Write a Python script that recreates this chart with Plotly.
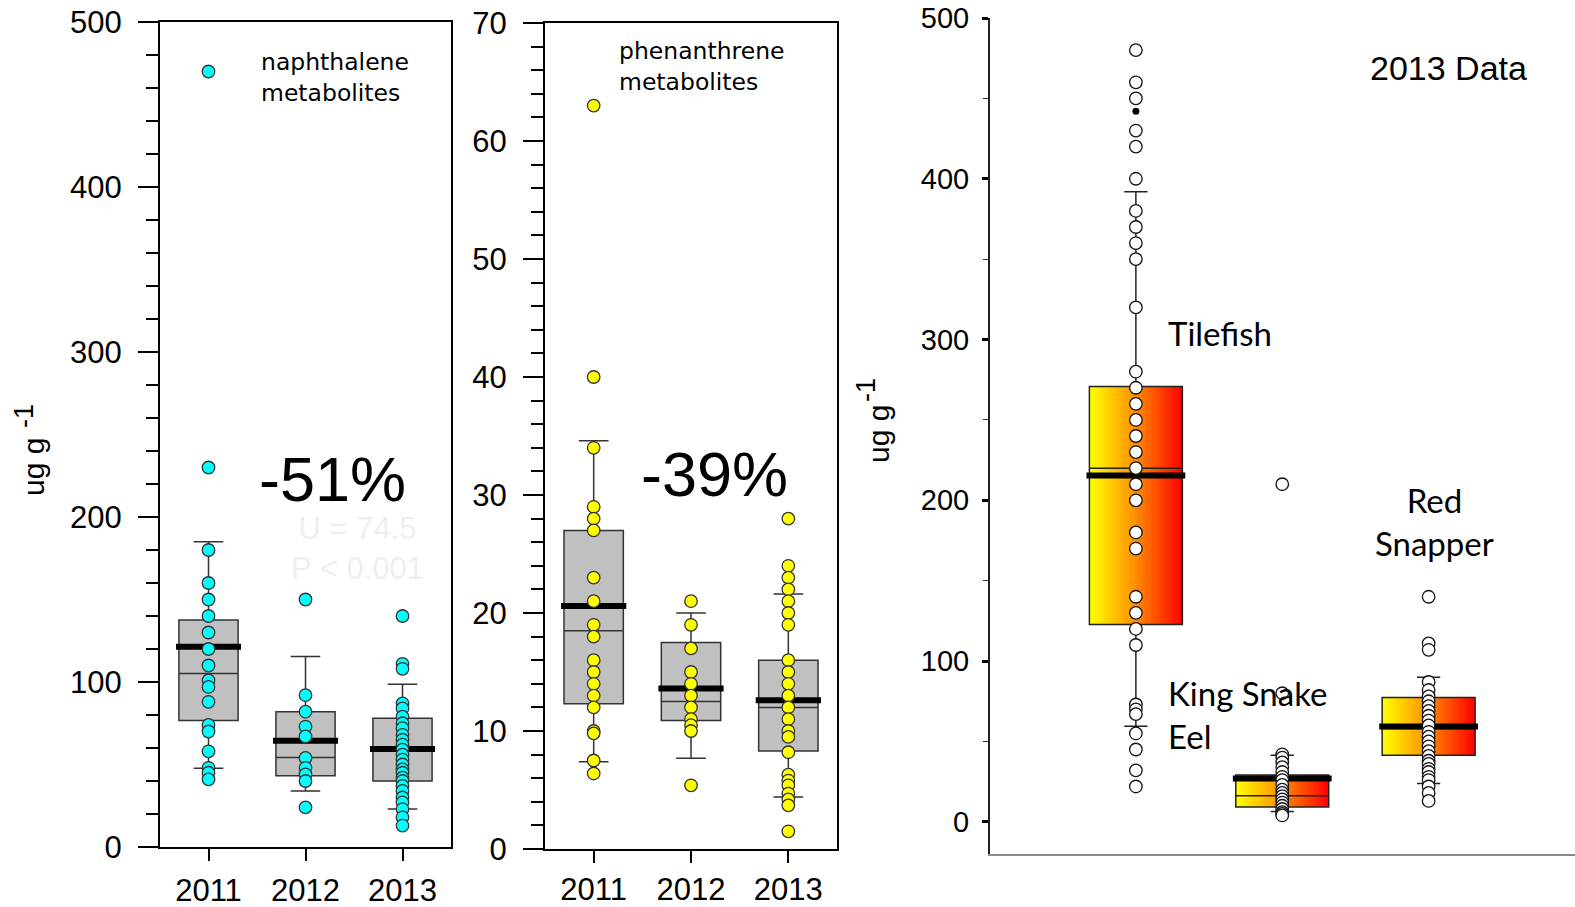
import numpy as np
import plotly.graph_objects as go

# ---------------- data ----------------
years = ["2011", "2012", "2013"]

naph_2011 = [470, 230, 180, 160, 150, 140, 130, 120, 110, 101, 97, 88, 74, 70, 58, 48, 45, 41]
naph_2012 = [150, 92, 82, 73, 67, 54, 48, 44, 40, 24]
naph_2013 = [140, 111, 108, 87, 84, 79, 75, 72, 68, 65, 62, 59, 56, 53, 50, 47, 45, 42,
             40, 37, 34, 30, 27, 23, 18, 13]
naph_q1 = [76.6, 43.2, 40.0]
naph_median = [105.2, 54.3, 58.0]
naph_q3 = [137.6, 82.0, 78.0]
naph_low = [47.7, 34.0, 23.0]
naph_high = [185.0, 115.4, 98.6]
naph_mean = [121.4, 64.4, 59.4]

phen_2011 = [63, 40, 34, 29, 28, 27, 23, 21, 19, 18, 16, 15, 14, 13, 12, 10, 9.8, 7.5, 6.4]
phen_2012 = [21, 19, 17, 15, 14, 13, 12, 11, 10.5, 10, 5.4]
phen_2013 = [28, 24, 23, 22, 21, 20, 19, 16, 15, 14, 13, 12, 11, 10, 9.5, 8.2, 6.3, 5.8,
             5.4, 4.7, 4.2, 3.7, 1.5]
phen_q1 = [12.3, 10.9, 8.3]
phen_median = [18.5, 12.5, 12.0]
phen_q3 = [27.0, 17.5, 16.0]
phen_low = [7.4, 7.7, 4.4]
phen_high = [34.6, 20.0, 21.6]
phen_mean = [20.6, 13.6, 12.6]

species = ["Tilefish", "King Snake<br>Eel", "Red<br>Snapper"]
tilefish = [480, 460, 450, 430, 420, 400, 380, 370, 360, 350, 320, 280, 270, 260, 250, 240,
            230, 220, 210, 200, 180, 170, 140, 130, 120, 110, 73, 70, 67, 55, 45, 32, 22]
tilefish_flagged = [442]
eel = [210, 80, 42, 40, 37, 34, 31, 28, 26, 23, 20, 18, 16, 14, 12, 10, 8, 6, 5, 4]
snapper = [140, 111, 107, 87, 82, 78, 75, 72, 69, 66, 63, 60, 56, 53, 50, 47, 44, 41, 38,
           36, 33, 31, 28, 26, 22, 18, 13]
fish_q1 = [122.8, 9.3, 41.5]
fish_median = [220.0, 16.2, 58.0]
fish_q3 = [270.8, 29.2, 77.3]
fish_low = [59.5, 6.5, 23.9]
fish_high = [392.0, 41.5, 90.0]
fish_mean = [215.5, 27.0, 59.3]

pct_naph = "-51%"
pct_phen = "-39%"

# ---------------- helpers ----------------
W, H = 1575, 907


def dx(a, b):
    return [a / W, min(b / W, 1.0)]


def dy(top, bottom):
    return [1 - bottom / H, 1 - top / H]


fig = go.Figure()


def add_panel(groups, q1, med, q3, lo, hi, mean, pos, xa, ya, box_w, fill, mfill,
              msize, mline, whisker_w, mean_w, mean_ext, box_line):
    fig.add_trace(go.Box(
        x=pos, q1=q1, median=med, q3=q3, lowerfence=lo, upperfence=hi,
        width=box_w, fillcolor=fill, line=dict(color=box_line, width=1.5),
        whiskerwidth=whisker_w, boxpoints=False, xaxis=xa, yaxis=ya,
        hoverinfo="skip", showlegend=False))
    mx, my = [], []
    for p, m in zip(pos, mean):
        mx += [p - box_w / 2 - mean_ext, p + box_w / 2 + mean_ext, None]
        my += [m, m, None]
    fig.add_trace(go.Scatter(x=mx, y=my, mode="lines",
                             line=dict(color="black", width=mean_w),
                             xaxis=xa, yaxis=ya, hoverinfo="skip", showlegend=False))
    px_, py_ = [], []
    for p, vals in zip(pos, groups):
        px_ += [p] * len(vals)
        py_ += list(vals)
    fig.add_trace(go.Scatter(x=px_, y=py_, mode="markers",
                             marker=dict(size=msize, color=mfill,
                                         line=dict(color=mline, width=1.3)),
                             xaxis=xa, yaxis=ya, hoverinfo="skip", showlegend=False))


# gradient fills for the 2013 boxes (heatmap bricks spanning each box)
fish_pos = [1, 2, 3]
fish_box_w = 0.635
ncol = 80
for p, a, b in zip(fish_pos, fish_q1, fish_q3):
    edges = np.linspace(p - fish_box_w / 2, p + fish_box_w / 2, ncol + 1)
    fig.add_trace(go.Heatmap(
        x=edges, y=[a, b], z=[list(range(ncol))],
        colorscale=[[0, "#ffff00"], [0.5, "#ff8c00"], [1, "#ff0000"]],
        showscale=False, hoverinfo="skip", xaxis="x3", yaxis="y3"))

add_panel([naph_2011, naph_2012, naph_2013], naph_q1, naph_median, naph_q3, naph_low,
          naph_high, naph_mean, [0, 1, 2], "x", "y", 0.61, "#c0c0c0", "#00ffff", 12.5,
          "#333333", 0.5, 6, 0.03, "#333333")
add_panel([phen_2011, phen_2012, phen_2013], phen_q1, phen_median, phen_q3, phen_low,
          phen_high, phen_mean, [0, 1, 2], "x2", "y2", 0.61, "#c0c0c0", "#ffff00", 12.5,
          "#333333", 0.5, 6, 0.03, "#333333")
add_panel([tilefish, eel, snapper], fish_q1, fish_median, fish_q3, fish_low, fish_high,
          fish_mean, fish_pos, "x3", "y3", fish_box_w, "rgba(0,0,0,0)", "white", 12.5,
          "#111111", 0.25, 6, 0.02, "#222222")
fig.add_trace(go.Scatter(x=[fish_pos[0]] * len(tilefish_flagged), y=tilefish_flagged,
                         mode="markers", marker=dict(size=7, color="black"),
                         xaxis="x3", yaxis="y3", hoverinfo="skip", showlegend=False))

# ---------------- axes ----------------
arial = "Liberation Sans, Arial, sans-serif"
tickfont = dict(family=arial, size=31, color="black")

common_x = dict(showgrid=False, zeroline=False, showline=True, linecolor="black",
                linewidth=2, mirror=True, ticks="outside", ticklen=12, tickwidth=2,
                tickcolor="black", tickfont=tickfont, ticklabelstandoff=3,
                range=[-0.5, 2.5], tickvals=[0, 1, 2], ticktext=years, fixedrange=True,
                automargin=False)
common_y = dict(showgrid=False, zeroline=False, showline=True, linecolor="black",
                linewidth=2, mirror=True, ticks="outside", ticklen=20, tickwidth=2,
                tickcolor="black", tickfont=tickfont, ticklabelstandoff=10, fixedrange=True,
                automargin=False)

fig.update_layout(
    template="none",
    width=W, height=H, margin=dict(l=0, r=0, t=0, b=0, pad=0),
    plot_bgcolor="white", paper_bgcolor="white", showlegend=False,
    xaxis=dict(common_x, domain=dx(160, 451), anchor="y"),
    yaxis=dict(common_y, domain=dy(22, 847), anchor="x", range=[0, 500], dtick=100, tick0=0,
               minor=dict(dtick=20, ticks="outside", ticklen=12, tickwidth=2,
                          tickcolor="black")),
    xaxis2=dict(common_x, domain=dx(545, 837), anchor="y2", ticklabelstandoff=0),
    yaxis2=dict(common_y, domain=dy(23, 849), anchor="x2", range=[0, 70], dtick=10, tick0=0,
                minor=dict(dtick=2, ticks="outside", ticklen=12, tickwidth=2,
                           tickcolor="black")),
    xaxis3=dict(domain=dx(989.5, 1576), anchor="y3", range=[0, 4], showgrid=False,
                zeroline=False, showline=True, linecolor="#8a8a8a", linewidth=2,
                showticklabels=False, ticks="", fixedrange=True, automargin=False),
    xaxis4=dict(overlaying="x3", side="top", anchor="y3", range=[0, 4], showgrid=False,
                zeroline=False, showline=True, linecolor="#333333", linewidth=1.5,
                showticklabels=False, ticks="", fixedrange=True, automargin=False),
    yaxis3=dict(domain=dy(18, 854), anchor="x3", range=[-20, 500], dtick=100, tick0=0,
                showgrid=False, zeroline=False, showline=True, linecolor="#222222",
                linewidth=1.5, ticks="outside", ticklen=6, tickwidth=3, tickcolor="black",
                minor=dict(dtick=50, ticks="outside", ticklen=5, tickwidth=1,
                           tickcolor="#333333"),
                tickfont=dict(family=arial, size=29, color="black"),
                ticklabelstandoff=7, fixedrange=True, automargin=False),
)


# ---------------- annotations ----------------
def ann(text, x, y, size, family=arial, color="black", xanchor="center",
        yanchor="middle", align="center", angle=0):
    fig.add_annotation(text=text, x=x / W, y=1 - y / H, xref="paper", yref="paper",
                       showarrow=False, xanchor=xanchor, yanchor=yanchor, align=align,
                       textangle=angle, font=dict(family=family, size=size, color=color))


dejavu = "DejaVu Sans, sans-serif"
lato = "Lato, Carlito, Calibri, sans-serif"

# faint ghost statistics text visible in the original
ann("U = 74.5<br>P < 0.001", 357, 548, 31, arial, "#efefef")

ann("naphthalene<br>metabolites", 259, 78, 23.5, dejavu, "black", "left", align="left")
ann("phenanthrene<br>metabolites", 617, 66, 23.5, dejavu, "black", "left", align="left")
ann(pct_naph, 332, 479, 63)
ann(pct_phen, 714, 474, 63)
# y-axis titles: "ug g" with a raised full-size "-1"
ann("ug g", 33, 467, 30, angle=-90)
ann("-1", 24, 416, 27, angle=-90)
ann("ug g", 879, 434, 30, angle=-90)
ann("-1", 866, 390, 27, angle=-90)
ann("2013 Data", 1448, 68, 34)
ann(species[0], 1166, 333, 33, lato, "black", "left", align="left")
ann(species[1], 1166, 714, 33, lato, "black", "left", align="left")
ann(species[2], 1434, 521, 33, lato, "black", "center", align="center")

fig.write_html("out.html",
               config={"displayModeBar": False, "staticPlot": True},
               post_script="document.body.style.margin='0px';"
                           "document.body.style.overflow='hidden';")
